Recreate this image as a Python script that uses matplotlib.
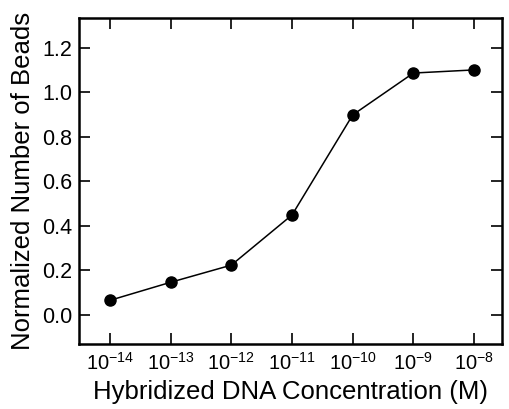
import matplotlib
matplotlib.use("Agg")
import matplotlib.pyplot as plt
from matplotlib.ticker import FixedLocator, FixedFormatter, NullLocator

plt.rcParams['font.family'] = ['Liberation Sans', 'DejaVu Sans']
plt.rcParams['mathtext.fontset'] = 'custom'
plt.rcParams['mathtext.rm'] = 'Liberation Sans'
plt.rcParams['mathtext.it'] = 'Liberation Sans:italic'
plt.rcParams['mathtext.bf'] = 'Liberation Sans:bold'

concentration = [1e-14, 1e-13, 1e-12, 1e-11, 1e-10, 1e-9, 1e-8]
beads = [0.066, 0.147, 0.224, 0.449, 0.898, 1.086, 1.10]
xtick_labels = [r'$\mathregular{10^{-14}}$', r'$\mathregular{10^{-13}}$', r'$\mathregular{10^{-12}}$',
                r'$\mathregular{10^{-11}}$', r'$\mathregular{10^{-10}}$', r'$\mathregular{10^{-9}}$',
                r'$\mathregular{10^{-8}}$']
yticks = [0.0, 0.2, 0.4, 0.6, 0.8, 1.0, 1.2]

fig = plt.figure(figsize=(5.09, 4.09), dpi=100)
ax = fig.add_axes([79/509, 1 - 344/409, (502-79)/509, (344-18)/409])
ax.plot(concentration, beads, color='black', lw=1.1, marker='o', ms=8, mfc='black', mec='black')
ax.set_xscale('log')
ax.set_xlim(10**-14.51, 10**-7.54)
ax.set_ylim(-0.13, 1.333)
ax.xaxis.set_major_locator(FixedLocator(concentration))
ax.xaxis.set_major_formatter(FixedFormatter(xtick_labels))
ax.xaxis.set_minor_locator(NullLocator())
ax.set_yticks(yticks)
ax.set_yticklabels([f'{v:.1f}' for v in yticks])
ax.tick_params(direction='in', length=8, width=1.2, top=True, right=True, colors='black')
ax.tick_params(axis='x', pad=6, labelsize=14.5)
ax.tick_params(axis='y', pad=5, labelsize=15.5)
for s in ax.spines.values():
    s.set_linewidth(1.8)
ax.set_xlabel('Hybridized DNA Concentration (M)', fontsize=18.5, labelpad=4)
ax.set_ylabel('Normalized Number of Beads', fontsize=18.5, labelpad=5)
fig.savefig('out.png', dpi=100)
